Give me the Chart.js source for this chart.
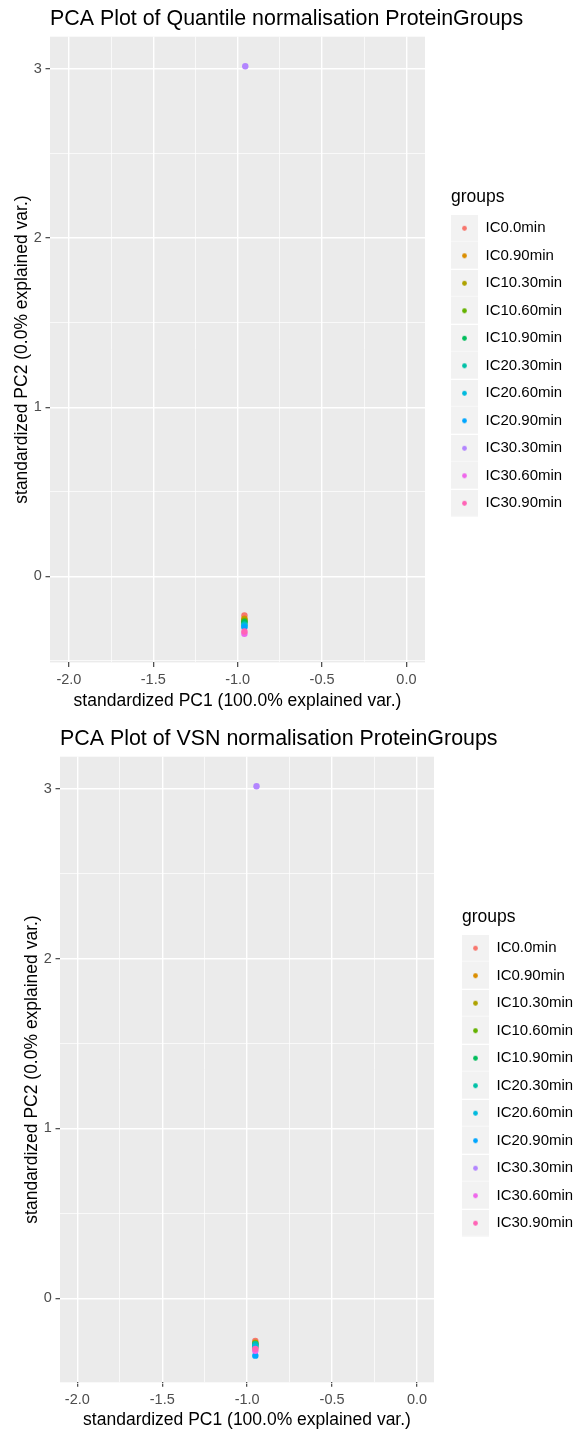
<!DOCTYPE html>
<html><head><meta charset="utf-8">
<script src="https://cdn.jsdelivr.net/npm/chart.js@4.4.1/dist/chart.umd.min.js"></script>
<style>
html,body{margin:0;padding:0;background:#fff;}
#w1{position:absolute;left:0;top:0;width:576px;height:720px;}
#w2{position:absolute;left:0;top:720px;width:576px;height:715px;}
canvas{display:block;}
</style></head><body>
<div id="w1"><canvas id="c1" width="576" height="720"></canvas></div>
<div id="w2"><canvas id="c2" width="576" height="715"></canvas></div>
<script>
// ---- data ----
const groups = ['IC0.0min','IC0.90min','IC10.30min','IC10.60min','IC10.90min','IC20.30min','IC20.60min','IC20.90min','IC30.30min','IC30.60min','IC30.90min'];
const groupColors = ['#F8766D','#DB8E00','#AEA200','#64B200','#00BD5C','#00C1A7','#00BADE','#00A6FF','#B385FF','#EF67EB','#FF63B6'];
const quantilePC1 = [-0.960,-0.960,-0.960,-0.960,-0.960,-0.960,-0.960,-0.960,-0.955,-0.960,-0.960];
const quantilePC2 = [-0.232,-0.250,-0.258,-0.265,-0.272,-0.285,-0.292,-0.301,3.016,-0.340,-0.326];
const vsnPC1 = [-0.952,-0.952,-0.952,-0.952,-0.952,-0.952,-0.952,-0.952,-0.945,-0.952,-0.952];
const vsnPC2 = [-0.251,-0.290,-0.262,-0.268,-0.276,-0.271,-0.284,-0.338,3.016,-0.309,-0.298];
const xMajorTicks = [-2.0,-1.5,-1.0,-0.5,0.0];
const xMinorTicks = [-1.75,-1.25,-0.75,-0.25];
const yMajorTicks = [0,1,2,3];
const yMinorTicks = [-0.5,0.5,1.5,2.5];
const plotTitles = ['PCA Plot of Quantile normalisation ProteinGroups','PCA Plot of VSN normalisation ProteinGroups'];
const xAxisTitle = 'standardized PC1 (100.0% explained var.)';
const yAxisTitle = 'standardized PC2 (0.0% explained var.)';
const legendTitle = 'groups';

const FONT = '"Liberation Sans", Arial, Helvetica, sans-serif';
Chart.defaults.font.family = FONT;

function isIn(arr, v){ return arr.some(m => Math.abs(m - v) < 1e-9); }

function keyImage(color){
  const c = document.createElement('canvas'); c.width = 27; c.height = 27;
  const g = c.getContext('2d');
  g.fillStyle = '#F2F2F2'; g.fillRect(0, 0, 27, 26.6);
  g.fillStyle = color; g.beginPath(); g.arc(13.5, 13.5, 2.4, 0, Math.PI*2); g.fill();
  return c;
}
const keyImages = groupColors.map(keyImage);

const panelBg = {
  id: 'panelBg',
  beforeDraw(chart){
    const a = chart.chartArea, ctx = chart.ctx;
    ctx.save(); ctx.fillStyle = '#EBEBEB';
    ctx.fillRect(a.left, a.top, a.right - a.left, a.bottom - a.top);
    ctx.restore();
  }
};
const placeTitles = {
  id: 'placeTitles',
  afterInit(chart){
    const lg = chart.legend;
    if (lg && typeof lg.drawTitle === 'function' && !lg._shifted){
      const orig = lg.drawTitle.bind(lg);
      lg.drawTitle = function(){
        const l = this.left; this.left = l + this.options.labels.padding;
        orig(); this.left = l;
      };
      lg._shifted = true;
    }
  },
  afterLayout(chart){
    const t = chart.titleBlock;
    if (t){ t.left = chart.chartArea.left; t.right = chart.width; }
  }
};

function gridWidth(majors){ return c => (c.tick && !isIn(majors, c.tick.value)) ? 0.7 : 1.4; }
function tickCol(majors){ return c => (c.tick && !isIn(majors, c.tick.value)) ? 'rgba(0,0,0,0)' : '#333333'; }

function makeChart(id, p){
  const datasets = groups.map((g, i) => ({
    label: g,
    data: [{x: p.pc1[i], y: p.pc2[i]}],
    backgroundColor: groupColors[i], borderColor: groupColors[i],
    pointRadius: 3.2, pointHoverRadius: 3.2, pointBorderWidth: 0,
    order: groups.length - i
  }));
  return new Chart(document.getElementById(id), {
    type: 'scatter',
    data: { datasets },
    plugins: [panelBg, placeTitles],
    options: {
      responsive: false, animation: false, events: [],
      layout: { padding: { left: p.padL, right: p.padR, top: 0, bottom: 0 } },
      scales: {
        x: {
          type: 'linear', min: p.xMin, max: p.xMax,
          afterBuildTicks: s => { s.ticks = xMajorTicks.concat(xMinorTicks).sort((a,b)=>a-b).map(v => ({value: v})); },
          afterFit: s => { s.height = p.xAxisH; },
          ticks: { autoSkip: false, maxRotation: 0, color: '#4D4D4D', font: {size: 14.5}, padding: p.xTickPad,
                   callback: v => isIn(xMajorTicks, v) ? v.toFixed(1) : '' },
          grid: { color: '#FFFFFF', lineWidth: gridWidth(xMajorTicks), drawTicks: true, tickLength: 4.5,
                  tickColor: tickCol(xMajorTicks), tickWidth: 1.1 },
          border: { display: false },
          title: { display: true, text: xAxisTitle, color: '#000000', font: {size: 17.5}, padding: {top: 0, bottom: p.xTitlePad} }
        },
        y: {
          type: 'linear', position: 'left', min: p.yMin, max: p.yMax,
          afterBuildTicks: s => { s.ticks = yMajorTicks.concat(yMinorTicks).sort((a,b)=>a-b).map(v => ({value: v})); },
          afterFit: s => { s.width = 50; },
          ticks: { autoSkip: false, color: '#4D4D4D', font: {size: 14.5}, padding: 3.8,
                   callback: v => isIn(yMajorTicks, v) ? v.toFixed(0) : '' },
          grid: { color: '#FFFFFF', lineWidth: gridWidth(yMajorTicks), drawTicks: true, tickLength: 4.5,
                  tickColor: tickCol(yMajorTicks), tickWidth: 1.1 },
          border: { display: false },
          title: { display: true, text: yAxisTitle, color: '#000000', font: {size: 17.5}, padding: {top: 12, bottom: 0} }
        },
        yGap: {
          type: 'linear', position: 'right', display: true,
          ticks: { display: false }, grid: { display: false }, border: { display: false },
          afterFit: s => { s.width = p.gap; }
        }
      },
      plugins: {
        title: { display: true, text: p.title, align: 'start', color: '#000000',
                 font: {size: 21.4, weight: 'normal', lineHeight: 1.2}, padding: {top: 6.55, bottom: 4.45} },
        tooltip: { enabled: false },
        legend: {
          position: 'right', align: 'center', fullSize: false, maxWidth: 123,
          labels: {
            usePointStyle: true, pointStyleWidth: 27, boxHeight: 15, padding: 12.5,
            color: '#000000', font: {size: 15},
            generateLabels: chart => chart.data.datasets.map((ds, i) => ({
              text: ds.label, fillStyle: ds.backgroundColor, strokeStyle: ds.backgroundColor,
              lineWidth: 0, pointStyle: keyImages[i], hidden: false, datasetIndex: i, fontColor: '#000000'
            }))
          },
          title: { display: true, text: legendTitle, position: 'start', color: '#000000',
                   font: {size: 17.5, lineHeight: 1}, padding: {top: 12.25, bottom: 2.75} }
        }
      }
    }
  });
}

makeChart('c1', { pc1: quantilePC1, pc2: quantilePC2, title: plotTitles[0],
  xMin: -2.112, xMax: 0.110, yMin: -0.509, yMax: 3.191,
  padL: 0, padR: 14.5, gap: 13.5, xAxisH: 57.6, xTickPad: 4.7, xTitlePad: 8 });
makeChart('c2', { pc1: vsnPC1, pc2: vsnPC2, title: plotTitles[1],
  xMin: -2.102, xMax: 0.100, yMin: -0.495, yMax: 3.190,
  padL: 10, padR: 3.5, gap: 15.5, xAxisH: 52.7, xTickPad: 4.5, xTitlePad: 4.5 });
</script>
</body></html>
